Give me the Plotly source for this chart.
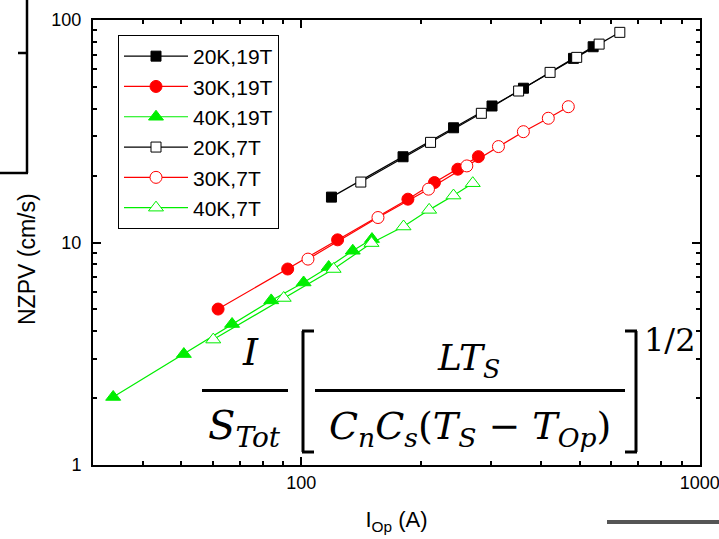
import plotly.graph_objects as go

# ---- data ----
I_20K_19T = [119, 180, 241, 301, 361, 482, 540]
V_20K_19T = [16.0, 24.3, 32.8, 41.1, 49.4, 67.3, 75.9]
I_30K_19T = [61.8, 92.4, 123.3, 185.1, 215.8, 247.0, 278.2]
V_30K_19T = [5.02, 7.60, 10.28, 15.66, 18.6, 21.36, 24.33]
I_40K_19T = [33.7, 50.7, 67.0, 84.0, 101.3, 117.1, 134.6, 150.4]
V_40K_19T = [2.02, 3.15, 4.30, 5.49, 6.61, 7.76, 9.18, 10.36]
I_20K_7T = [141, 211, 283, 351, 421, 491, 559, 630]
V_20K_7T = [18.7, 28.2, 38.1, 48.0, 58.2, 68.0, 78.0, 88.1]
I_30K_7T = [103.9, 155.7, 208.5, 260.2, 312.4, 360.8, 416.7, 467.8]
V_30K_7T = [8.42, 12.95, 17.37, 22.1, 27.0, 31.5, 36.2, 40.8]
I_40K_7T = [60.1, 90.3, 120.5, 150.0, 180.5, 209.3, 240.9, 269.3]
V_40K_7T = [3.66, 5.63, 7.60, 9.94, 11.80, 14.02, 16.26, 18.48]

W, H = 719, 539
L, R, T, B = 93, 19, 20, 74
PW, PH = W - L - R, H - T - B

def px(x):
    return (x - L) / PW

def py(y):
    return (H - B - y) / PH

FONT = "Liberation Sans, Arial, sans-serif"
MATH = "DejaVu Serif, serif"

fig = go.Figure()

series = [
    ("20K,19T", I_20K_19T, V_20K_19T, "black", "square", "black", 10),
    ("30K,19T", I_30K_19T, V_30K_19T, "red", "circle", "red", 12),
    ("40K,19T", I_40K_19T, V_40K_19T, "#00ee00", "triangle-up", "#00ee00", 13),
    ("20K,7T", I_20K_7T, V_20K_7T, "black", "square", "white", 10),
    ("30K,7T", I_30K_7T, V_30K_7T, "red", "circle", "white", 12),
    ("40K,7T", I_40K_7T, V_40K_7T, "#00ee00", "triangle-up", "white", 13),
]
for name, xs, ys, col, sym, fill, sz in series:
    fig.add_trace(go.Scatter(
        x=xs, y=ys, name=name, mode="lines+markers",
        line=dict(color=col, width=1.2),
        marker=dict(symbol=sym, size=sz, color=fill, line=dict(color=col, width=1)),
    ))

xminor = [v * 10 ** k for k in (1, 2) for v in range(2, 10)]
yminor = [v * 10 ** k for k in (0, 1) for v in range(2, 10)]

axis_common = dict(
    type="log", showgrid=False, zeroline=False, showline=True, linecolor="black",
    linewidth=2, mirror="ticks", ticks="inside", ticklen=8, tickwidth=1.5,
    tickcolor="black", tickfont=dict(family=FONT, size=18, color="black"),
    ticklabeloverflow="allow", automargin=False,
)
fig.update_xaxes(
    **axis_common, range=[1.477, 3.0006], tickvals=[100, 1000], ticktext=["100", "1000"],
    minor=dict(tickvals=xminor, ticks="inside", ticklen=4, tickwidth=1.5, tickcolor="black"),
    title=dict(text="I<sub>Op</sub> (A)", font=dict(family=FONT, size=22, color="black"), standoff=20),
)
fig.update_yaxes(
    **axis_common, range=[-0.0005, 2.0005], tickvals=[1, 10, 100], ticktext=["1", "10", "100"],
    minor=dict(tickvals=yminor, ticks="inside", ticklen=4, tickwidth=1.5, tickcolor="black"),
    ticklabelstandoff=6,
)

shapes = []
def seg(x0, y0, x1, y1, width=3, color="black"):
    shapes.append(dict(type="line", xref="paper", yref="paper",
                       x0=px(x0), y0=py(y0), x1=px(x1), y1=py(y1),
                       line=dict(color=color, width=width)))

# equation fraction bars and brackets
seg(202, 390.5, 288, 390.5)
seg(315, 390.5, 625, 390.5)
seg(303, 331, 303, 452)
seg(302, 331, 314, 331)
seg(302, 452, 314, 452)
seg(636, 331, 636, 452)
seg(625, 331, 637, 331)
seg(625, 452, 637, 452)
# cropped-figure remnants
seg(27, 0, 27, 173, width=2.5)
seg(0, 173, 28, 173, width=2.5)
seg(18, 53, 27, 53, width=2.5)
seg(607, 522, 719, 522, width=4, color="#555555")

annotations = []
def txt(x, y, s, size, family=MATH, xanchor="center", angle=0):
    annotations.append(dict(xref="paper", yref="paper", x=px(x), y=py(y), text=s,
                            showarrow=False, xanchor=xanchor, yanchor="middle",
                            textangle=angle,
                            font=dict(family=family, size=size, color="black")))

txt(250, 352, "<i>I</i>", 38)
txt(244, 428, "<i>S</i><sub><i>Tot</i></sub>", 40)
txt(468, 360, "<i>LT</i><sub><i>S</i></sub>", 36)
txt(470, 428, "<i>C</i><sub><i>n</i></sub><i>C</i><sub><i>s</i></sub>(<i>T</i><sub><i>S</i></sub> − <i>T</i><sub><i>Op</i></sub>)", 38)
txt(670, 340, "1/2", 32)
# y-axis title
txt(27, 259, "NZPV (cm/s)", 23, family=FONT, angle=-90)

fig.update_layout(
    width=W, height=H, margin=dict(l=L, r=R, t=T, b=B, autoexpand=False),
    paper_bgcolor="white", plot_bgcolor="white",
    shapes=shapes, annotations=annotations,
    showlegend=True,
    legend=dict(x=px(118), y=py(35), xanchor="left", yanchor="top",
                bgcolor="white", bordercolor="black", borderwidth=1,
                font=dict(family=FONT, size=21, color="black"),
                itemwidth=64, tracegroupgap=0),
)

fig.write_html("out.html")
